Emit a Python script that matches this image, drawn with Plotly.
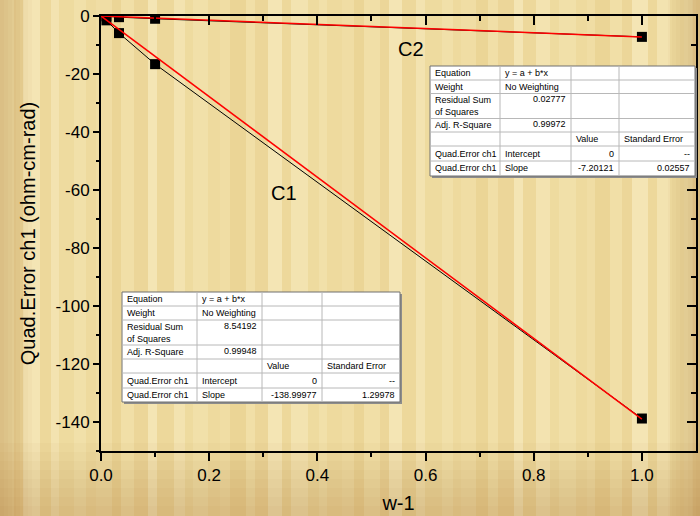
import re
import plotly.graph_objects as go

# ---------------- data ----------------
w_inv = [0.01, 0.0333, 0.1, 1.0]
c1_vals = [-1.5, -5.9, -16.6, -138.8]
c2_vals = [-0.1, -0.4, -0.95, -7.2]

fit_x = [0.0, 1.0]
c1_slope = -138.99977
c2_slope = -7.20121

x_tick_vals = [0.0, 0.2, 0.4, 0.6, 0.8, 1.0]
x_tick_text = ["0.0", "0.2", "0.4", "0.6", "0.8", "1.0"]
x_minor_vals = [0.1, 0.3, 0.5, 0.7, 0.9]
y_tick_vals = [0, -20, -40, -60, -80, -100, -120, -140]
y_tick_text = ["0", "-20", "-40", "-60", "-80", "-100", "-120", "-140"]
y_minor_vals = [-10, -30, -50, -70, -90, -110, -130, -150]

curve_labels = ["C1", "C2"]

c1_table = [
    ["Equation", "y = a + b*x", "", ""],
    ["Weight", "No Weighting", "", ""],
    ["Residual Sum<br>of Squares", "8.54192", "", ""],
    ["Adj. R-Square", "0.99948", "", ""],
    ["", "", "Value", "Standard Error"],
    ["Quad.Error ch1", "Intercept", "0", "--"],
    ["Quad.Error ch1", "Slope", "-138.99977", "1.29978"],
]
c2_table = [
    ["Equation", "y = a + b*x", "", ""],
    ["Weight", "No Weighting", "", ""],
    ["Residual Sum<br>of Squares", "0.02777", "", ""],
    ["Adj. R-Square", "0.99972", "", ""],
    ["", "", "Value", "Standard Error"],
    ["Quad.Error ch1", "Intercept", "0", "--"],
    ["Quad.Error ch1", "Slope", "-7.20121", "0.02557"],
]

# ---------------- layout geometry ----------------
W, H = 700, 516
ML, MR, MT, MB = 101, 4, 16, 65
PW, PH = W - ML - MR, H - MT - MB
FONT = "Arial, Liberation Sans, sans-serif"


def px(x):
    return (x - ML) / PW


def py(y):
    return (H - MB - y) / PH


fig = go.Figure()

# data traces
for vals in (c1_vals, c2_vals):
    fig.add_trace(go.Scatter(
        x=w_inv, y=vals, mode="lines+markers",
        line=dict(color="black", width=1),
        marker=dict(symbol="square", size=10, color="black"),
        showlegend=False, hoverinfo="skip"))

# linear fit lines
for slope in (c1_slope, c2_slope):
    fig.add_trace(go.Scatter(
        x=fit_x, y=[slope * v for v in fit_x], mode="lines",
        line=dict(color="#FF0000", width=1.5),
        showlegend=False, hoverinfo="skip"))

# dummy trace for mirrored axes
fig.add_trace(go.Scatter(x=[None], y=[None], xaxis="x2", yaxis="y2",
                         showlegend=False, hoverinfo="skip"))

shapes = []
annotations = []

# ---------------- background texture ----------------
stripe_cols = ["#F1DFA7", "#EEDA9E", "#F3E3B0", "#ECD699", "#F0DDA4",
               "#EEDB9F", "#F4E5B4", "#EBD596", "#F1E0A9", "#EDD89B"]
sx = 0
i = 0
widths = [14, 9, 17, 11, 8, 15, 12, 10, 16, 9, 13]
while sx < W:
    w = widths[i % len(widths)]
    c = stripe_cols[(i * 3) % len(stripe_cols)]
    shapes.append(dict(type="rect", xref="paper", yref="paper",
                       x0=px(sx), x1=px(sx + w + 1), y0=py(H), y1=py(0),
                       fillcolor=c, line=dict(width=0), layer="below"))
    sx += w
    i += 1
# vignette bands
for k in range(8):
    a = 0.03
    shapes.append(dict(type="rect", xref="paper", yref="paper",
                       x0=px(0), x1=px(W), y0=py(H), y1=py(H - 10 - k * 9),
                       fillcolor=f"rgba(150,100,20,{a})", line=dict(width=0),
                       layer="below"))
    shapes.append(dict(type="rect", xref="paper", yref="paper",
                       x0=px(0), x1=px(4 + k * 4), y0=py(H), y1=py(0),
                       fillcolor=f"rgba(150,100,20,{a})", line=dict(width=0),
                       layer="below"))
    shapes.append(dict(type="rect", xref="paper", yref="paper",
                       x0=px(W - 4 - k * 4), x1=px(W), y0=py(H), y1=py(0),
                       fillcolor=f"rgba(150,100,20,{a})", line=dict(width=0),
                       layer="below"))


# ---------------- tables ----------------
num_re = re.compile(r"^(-?[0-9.]+|--)$")


def add_table(rows, xs, ys):
    x0, x1 = xs[0], xs[-1]
    y0, y1 = ys[0], ys[-1]
    # shadow
    shapes.append(dict(type="rect", xref="paper", yref="paper",
                       x0=px(x0 + 2), x1=px(x1 + 2), y0=py(y1 + 2), y1=py(y0 + 2),
                       fillcolor="#8c8c8c", line=dict(width=0)))
    shapes.append(dict(type="rect", xref="paper", yref="paper",
                       x0=px(x0), x1=px(x1), y0=py(y1), y1=py(y0),
                       fillcolor="white", line=dict(color="#707070", width=1)))
    for xv in xs[1:-1]:
        shapes.append(dict(type="line", xref="paper", yref="paper",
                           x0=px(xv), x1=px(xv), y0=py(y0), y1=py(y1),
                           line=dict(color="#b8b8b8", width=1)))
    for yv in ys[1:-1]:
        shapes.append(dict(type="line", xref="paper", yref="paper",
                           x0=px(x0), x1=px(x1), y0=py(yv), y1=py(yv),
                           line=dict(color="#b8b8b8", width=1)))
    for r, row in enumerate(rows):
        top, bot = ys[r], ys[r + 1]
        for c, txt in enumerate(row):
            if not txt:
                continue
            left, right = xs[c], xs[c + 1]
            is_num = bool(num_re.match(txt))
            if is_num:
                xa, anchor = right - 3, "right"
            else:
                xa, anchor = left + 3, "left"
            if is_num and c == 1:
                yc = top + 5.5
            else:
                yc = (top + bot) / 2
            annotations.append(dict(
                text=txt, xref="paper", yref="paper",
                x=px(xa), y=py(yc), xanchor=anchor, yanchor="middle",
                showarrow=False, align="left",
                font=dict(family=FONT, size=9, color="black")))


add_table(c2_table, [430, 500, 571, 619, 695],
          [66, 80, 93.5, 118.5, 132, 146, 161, 176])
add_table(c1_table, [122, 197, 262, 322, 400],
          [292, 306, 320, 345, 359, 373, 388, 402])

# curve labels
for lab, (lx, ly) in zip(curve_labels, [(284, 193), (411, 49)]):
    annotations.append(dict(text=lab, xref="paper", yref="paper",
                            x=px(lx), y=py(ly), xanchor="center", yanchor="middle",
                            showarrow=False,
                            font=dict(family=FONT, size=20, color="black")))

axis_common = dict(showgrid=False, zeroline=False, showline=True,
                   linecolor="black", linewidth=2, tickcolor="black",
                   tickwidth=2)

fig.update_layout(
    width=W, height=H,
    margin=dict(l=ML, r=MR, t=MT, b=MB),
    paper_bgcolor="#EFD99C",
    plot_bgcolor="rgba(0,0,0,0)",
    font=dict(family=FONT, color="black"),
    xaxis=dict(range=[0, 1.1], ticks="outside", ticklen=8,
               tickvals=x_tick_vals, ticktext=x_tick_text,
               tickfont=dict(size=17),
               minor=dict(tickvals=x_minor_vals, ticks="outside", ticklen=4,
                          tickwidth=2, tickcolor="black"),
               title=dict(text="w-1", font=dict(size=20), standoff=12),
               **axis_common),
    xaxis2=dict(range=[0, 1.1], overlaying="x", side="top", ticks="inside",
                ticklen=9, tickvals=x_tick_vals, showticklabels=False,
                minor=dict(tickvals=x_minor_vals, ticks="inside", ticklen=5,
                           tickwidth=2, tickcolor="black"),
                **axis_common),
    yaxis=dict(range=[-150, 0], ticks="outside", ticklen=6,
               tickvals=y_tick_vals, ticktext=y_tick_text,
               tickfont=dict(size=17),
               minor=dict(tickvals=y_minor_vals, ticks="outside", ticklen=3,
                          tickwidth=2, tickcolor="black"),
               title=dict(text="Quad.Error ch1 (ohm-cm-rad)", font=dict(size=20),
                          standoff=15),
               **axis_common),
    yaxis2=dict(range=[-150, 0], overlaying="y", side="right", ticks="inside",
                ticklen=9, tickvals=y_tick_vals, showticklabels=False,
                minor=dict(tickvals=y_minor_vals, ticks="inside", ticklen=5,
                           tickwidth=2, tickcolor="black"),
                **axis_common),
    shapes=shapes,
    annotations=annotations,
)

fig.write_html(
    "out.html",
    config={"displayModeBar": False},
    post_script="document.body.style.margin='0';document.body.style.overflow='hidden';",
)
